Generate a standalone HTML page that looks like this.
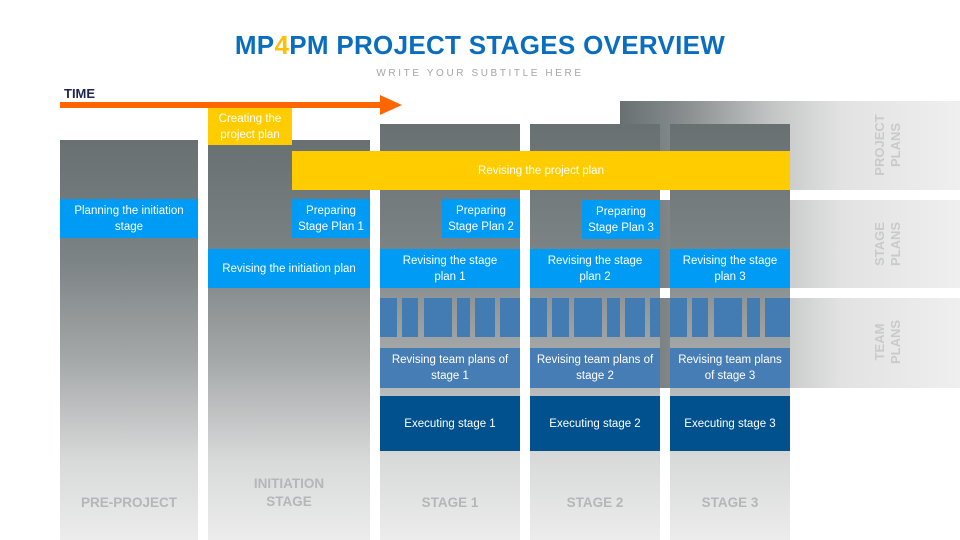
<!DOCTYPE html>
<html><head><meta charset="utf-8"><style>
*{margin:0;padding:0;box-sizing:border-box}
body{width:960px;height:540px;background:#fff;position:relative;overflow:hidden;font-family:"Liberation Sans",sans-serif}
.a{position:absolute}
.col{position:absolute;background:linear-gradient(#687071 0%,#7c8385 30%,#a5a8a9 55%,#d8d9d9 80%,#ececec 100%)}
.band{position:absolute;left:620px;width:340px;background:linear-gradient(90deg,#687071 0%,#8a8f90 20%,#c4c6c6 45%,#e2e2e2 65%,#efefef 100%)}
.t{position:absolute;display:flex;align-items:center;justify-content:center;text-align:center;color:#fff;font-size:11.5px;line-height:16px}
.b{background:#009bf5}.y{background:#ffcc00}.m{background:#477db5}.d{background:#00518e}
.blk{position:absolute;top:298px;height:39px;background:#437bb3}
.lbl{position:absolute;color:#b4b6b8;font-weight:bold;font-size:13.5px;text-align:center;line-height:18px}
.vl{position:absolute;color:#c8cacb;font-weight:bold;font-size:13px;transform:rotate(-90deg);text-align:center;line-height:16px;width:90px}
</style></head><body>
<div class="a" style="left:0;top:30px;width:960px;text-align:center;font-size:26px;font-weight:bold;color:#0a6ec0;letter-spacing:0.3px">MP<span style="color:#ffc000">4</span>PM PROJECT STAGES OVERVIEW</div>
<div class="a" style="left:0;top:68px;width:960px;text-align:center;font-size:10px;color:#a6a6a6;letter-spacing:2.6px">WRITE YOUR SUBTITLE HERE</div>
<div class="a" style="left:64px;top:86px;font-size:13px;font-weight:bold;color:#1f2550">TIME</div>
<div class="a" style="left:60px;top:102px;width:325px;height:6px;background:#ff6600"></div>
<svg class="a" style="left:380px;top:95px" width="24" height="20"><polygon points="0,0 22,10 0,20" fill="#ff6600"/></svg>

<div class="band" style="top:101px;height:89px"></div>
<div class="band" style="top:200px;height:88px"></div>
<div class="band" style="top:298px;height:90px"></div>

<div class="col" style="left:60px;top:140px;width:138px;height:400px"></div>
<div class="col" style="left:208px;top:140px;width:162px;height:400px"></div>
<div class="col" style="left:380px;top:124px;width:140px;height:416px"></div>
<div class="col" style="left:530px;top:124px;width:130px;height:416px"></div>
<div class="col" style="left:670px;top:124px;width:120px;height:416px"></div>

<div class="t y" style="left:208px;top:108px;width:84px;height:37px">Creating the<br>project plan</div>
<div class="t y" style="left:292px;top:151px;width:498px;height:39px">Revising the project plan</div>

<div class="t b" style="left:60px;top:199px;width:138px;height:39px">Planning the initiation<br>stage</div>
<div class="t b" style="left:292px;top:199px;width:78px;height:39px">Preparing<br>Stage Plan 1</div>
<div class="t b" style="left:442px;top:199px;width:78px;height:39px">Preparing<br>Stage Plan 2</div>
<div class="t b" style="left:582px;top:200px;width:78px;height:39px">Preparing<br>Stage Plan 3</div>
<div class="t b" style="left:208px;top:249px;width:162px;height:39px">Revising the initiation plan</div>
<div class="t b" style="left:380px;top:249px;width:140px;height:39px">Revising the stage<br>plan 1</div>
<div class="t b" style="left:530px;top:249px;width:130px;height:39px">Revising the stage<br>plan 2</div>
<div class="t b" style="left:670px;top:249px;width:120px;height:39px">Revising the stage<br>plan 3</div>

<div class="blk" style="left:380px;width:17px"></div><div class="blk" style="left:402px;width:16px"></div><div class="blk" style="left:424px;width:28px"></div><div class="blk" style="left:457px;width:13px"></div><div class="blk" style="left:475px;width:20px"></div><div class="blk" style="left:500px;width:20px"></div>
<div class="blk" style="left:530px;width:17px"></div><div class="blk" style="left:552px;width:17px"></div><div class="blk" style="left:574px;width:28px"></div><div class="blk" style="left:607px;width:13px"></div><div class="blk" style="left:625px;width:20px"></div><div class="blk" style="left:650px;width:10px"></div>
<div class="blk" style="left:670px;width:17px"></div><div class="blk" style="left:692px;width:16px"></div><div class="blk" style="left:714px;width:28px"></div><div class="blk" style="left:747px;width:13px"></div><div class="blk" style="left:765px;width:25px"></div>

<div class="t m" style="left:380px;top:348px;width:140px;height:40px">Revising team plans of<br>stage 1</div>
<div class="t m" style="left:530px;top:348px;width:130px;height:40px">Revising team plans of<br>stage 2</div>
<div class="t m" style="left:670px;top:348px;width:120px;height:40px">Revising team plans<br>of stage 3</div>

<div class="t d" style="left:380px;top:396px;width:140px;height:55px">Executing stage 1</div>
<div class="t d" style="left:530px;top:396px;width:130px;height:55px">Executing stage 2</div>
<div class="t d" style="left:670px;top:396px;width:120px;height:55px">Executing stage 3</div>

<div class="lbl" style="left:60px;top:494px;width:138px">PRE-PROJECT</div>
<div class="lbl" style="left:208px;top:475px;width:162px">INITIATION<br>STAGE</div>
<div class="lbl" style="left:380px;top:494px;width:140px">STAGE 1</div>
<div class="lbl" style="left:530px;top:494px;width:130px">STAGE 2</div>
<div class="lbl" style="left:670px;top:494px;width:120px">STAGE 3</div>

<div class="vl" style="left:843px;top:129px">PROJECT<br>PLANS</div>
<div class="vl" style="left:843px;top:228px">STAGE<br>PLANS</div>
<div class="vl" style="left:843px;top:326px">TEAM<br>PLANS</div>
</body></html>
